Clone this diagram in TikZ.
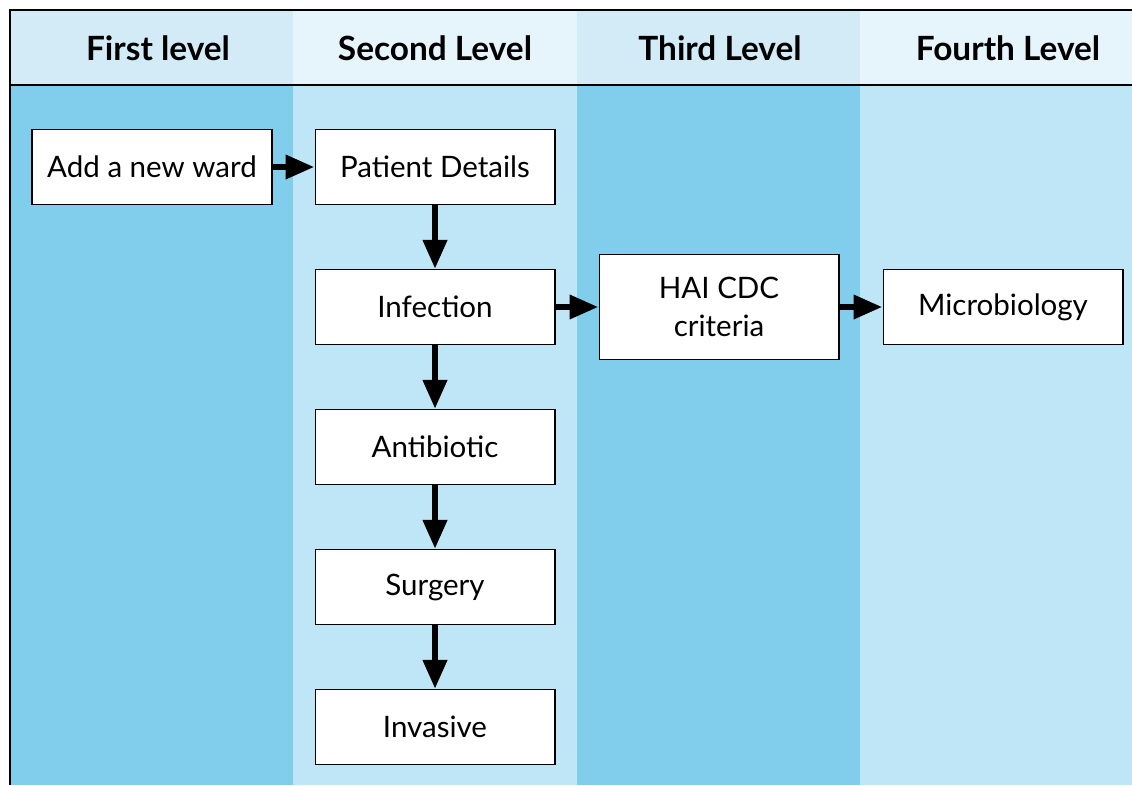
\documentclass[tikz,border=0pt]{standalone}
\usepackage{fontspec}
\setmainfont{Lato}
\usetikzlibrary{arrows.meta}

\definecolor{darkcol}{RGB}{128,206,236}
\definecolor{lightcol}{RGB}{190,230,246}
\definecolor{darkhead}{RGB}{211,235,247}
\definecolor{lighthead}{RGB}{230,244,251}

\tikzset{
  box/.style={draw=black, line width=0.6pt, fill=white, minimum width=4.8cm, minimum height=1.5cm, align=center, font=\fontsize{16.8}{21.5}\selectfont},
  head/.style={font=\fontsize{19}{22}\selectfont\bfseries},
  link/.style={line width=3.8pt, -{Triangle[length=0.58cm,width=0.46cm]}}
}

\begin{document}
\begin{tikzpicture}[x=0.02cm, y=-0.02cm]

\useasboundingbox (0,0) rectangle (1132,785);

% columns
\fill[darkhead] (10,10) rectangle (293,85);
\fill[lighthead] (293,10) rectangle (577,85);
\fill[darkhead] (577,10) rectangle (860,85);
\fill[lighthead] (860,10) rectangle (1132,85);
\fill[darkcol] (10,85) rectangle (293,785);
\fill[lightcol] (293,85) rectangle (577,785);
\fill[darkcol] (577,85) rectangle (860,785);
\fill[lightcol] (860,85) rectangle (1132,785);

% frame
\draw[line width=1.1pt] (10,785) -- (10,10) -- (1132,10);
\draw[line width=1.1pt] (10,85) -- (1132,85);

\node[head] (h1) at (158,48) {First level};
\node[head] (h2) at (435,48) {Second Level};
\node[head] (h3) at (720,48) {Third Level};
\node[head] (h4) at (1008,48) {Fourth Level};

\node[box] (ward) at (152,167) {Add a new ward};
\node[box] (patient) at (435,167) {Patient Details};
\node[box] (infection) at (435,307) {Infection};
\node[box] (antibiotic) at (435,447) {Antibiotic};
\node[box] (surgery) at (435,587) {Surgery};
\node[box] (invasive) at (435,727) {Invasive};
\node[box, minimum height=2.1cm] (hai) at (719,307) {HAI CDC\\criteria};
\node[box] (micro) at (1003,307) {Microbiology};

\draw[link] (ward) -- (patient);
\draw[link] (patient) -- (infection);
\draw[link] (infection) -- (antibiotic);
\draw[link] (antibiotic) -- (surgery);
\draw[link] (surgery) -- (invasive);
\draw[link] (infection) -- (hai);
\draw[link] (hai) -- (micro);

\end{tikzpicture}
\end{document}
